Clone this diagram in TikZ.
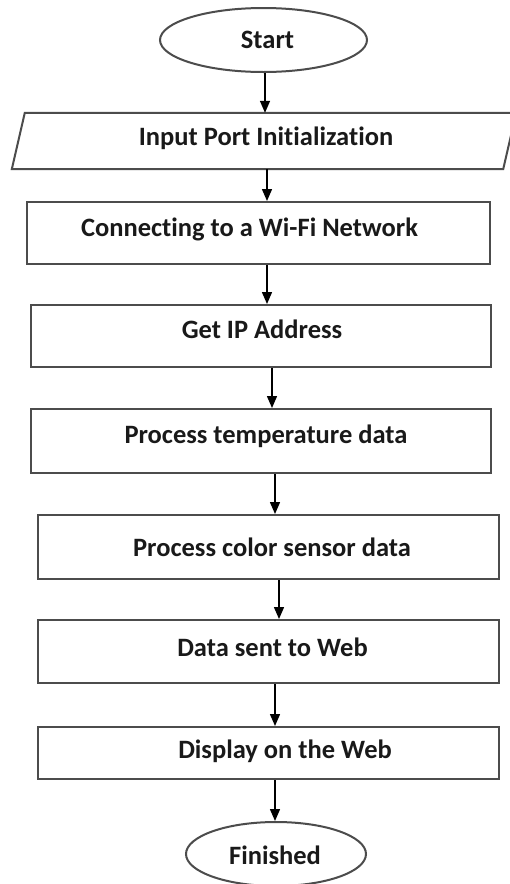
\documentclass[tikz,border=0pt]{standalone}
\usepackage{fontspec}
\setmainfont[Ligatures=NoCommon]{Carlito}
\usetikzlibrary{shapes.geometric,arrows.meta}
\begin{document}
\begin{tikzpicture}[x=1pt,y=-1pt,
  lbl/.style={font=\bfseries\fontsize{26.5}{30}\selectfont, text=black!90, inner sep=0pt, anchor=base},
  boxline/.style={draw=black!70, line width=2pt},
  procbox/.style={boxline, rectangle, inner sep=0pt},
  term/.style={boxline, ellipse, inner sep=0pt},
  arr/.style={draw=black, line width=1.5pt, -{Triangle[length=12pt,width=10pt]}}
]
\useasboundingbox[fill=white] (0,0) rectangle (509,884);
% shapes
\node[term, minimum width=207pt, minimum height=64pt] (start) at (263.5,40) {};
\node[inner sep=0pt, minimum width=491pt, minimum height=56pt] (input) at (264,141) {};
\draw[boxline] ([xshift=-6.5pt]input.south west) -- ([xshift=-6.5pt]input.south east) -- ([xshift=6.5pt]input.north east) -- ([xshift=6.5pt]input.north west) -- cycle;
\node[procbox, minimum width=463pt, minimum height=62pt] (b1) at (258.5,233) {};
\node[procbox, minimum width=460pt, minimum height=62pt] (b2) at (261,336) {};
\node[procbox, minimum width=460pt, minimum height=64pt] (b3) at (261,441) {};
\node[procbox, minimum width=461pt, minimum height=64pt] (b4) at (268.5,547) {};
\node[procbox, minimum width=461pt, minimum height=63pt] (b5) at (268.5,651.5) {};
\node[procbox, minimum width=461pt, minimum height=52pt] (b6) at (268.5,753) {};
\node[term, minimum width=180pt, minimum height=64pt] (fin) at (276,854) {};
% texts
\node[lbl] (tstart) at (267.5,48) {Start};
\node[lbl] (tinput) at (266,145) {Input Port Initialization};
\node[lbl] (t1) at (249.5,236) {Connecting to a Wi-Fi Network};
\node[lbl] (t2) at (262,338) {Get IP Address};
\node[lbl] (t3) at (266,443) {Process temperature data};
\node[lbl] (t4) at (272,556) {Process color sensor data};
\node[lbl] (t5) at (272.5,656) {Data sent to Web};
\node[lbl] (t6) at (285,758) {Display on the Web};
\node[lbl] (tfin) at (275,864) {Finished};
% connectors
\draw[arr] ([xshift=1.5pt]start.south) -- ([xshift=1.5pt]start.south |- input.north);
\draw[arr] ([xshift=3pt]input.south) -- ([xshift=3pt]input.south |- b1.north);
\draw[arr] ([xshift=8.5pt]b1.south) -- ([xshift=8.5pt]b1.south |- b2.north);
\draw[arr] ([xshift=11pt]b2.south) -- ([xshift=11pt]b2.south |- b3.north);
\draw[arr] ([xshift=14pt]b3.south) -- ([xshift=14pt]b3.south |- b4.north);
\draw[arr] ([xshift=10.5pt]b4.south) -- ([xshift=10.5pt]b4.south |- b5.north);
\draw[arr] ([xshift=6.5pt]b5.south) -- ([xshift=6.5pt]b5.south |- b6.north);
\draw[arr] ([xshift=6.5pt]b6.south) -- ([xshift=6.5pt]b6.south |- fin.north);
\end{tikzpicture}
\end{document}
